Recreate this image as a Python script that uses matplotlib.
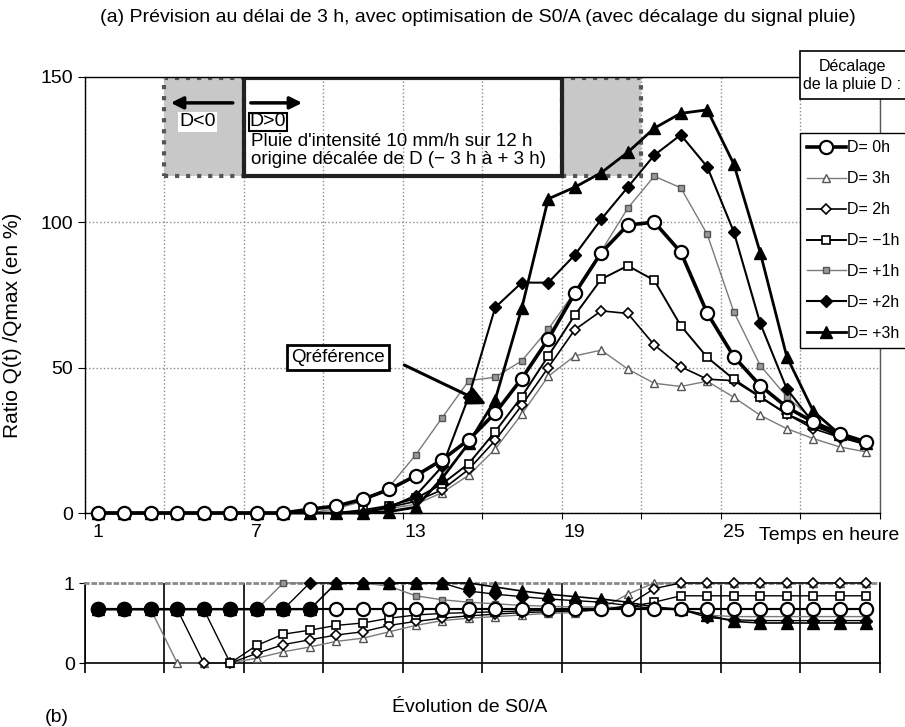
import matplotlib
matplotlib.use('Agg')
import matplotlib.pyplot as plt
from matplotlib.patches import Rectangle

plt.rcParams['font.family'] = ['Liberation Sans', 'DejaVu Sans']

W, H = 905, 727

hours = list(range(1, 31))
xtick_labels = [1, 7, 13, 19, 25]
labels = ['D= 0h', 'D= 3h', 'D= 2h', 'D= \u22121h', 'D= +1h', 'D= +2h', 'D= +3h']

# (a) Ratio Q(t)/Qmax (en %)
q_d0 = [0, 0, 0, 0, 0, 0, 0, 0, 1.3, 2.4, 4.7, 8.1, 12.8, 18.3, 25.2, 34.4, 46.2, 59.8, 75.5, 89.5,
        99, 100, 89.7, 68.7, 53.8, 43.8, 36.4, 31.3, 27.3, 24.4]
q_d3 = [0, 0, 0, 0, 0, 0, 0, 0, 0, 0, 0.3, 1.5, 3, 7, 13, 22, 34, 47, 54, 56,
        49.5, 44.6, 43.5, 45.3, 39.8, 33.6, 29, 25.6, 22.7, 21]
q_d2 = [0, 0, 0, 0, 0, 0, 0, 0, 0, 0, 0.5, 2, 4, 8, 15, 25, 37, 50, 63, 69.5,
        68.6, 57.8, 50.3, 46, 45.5, 39.8, 34, 29, 26, 23.5]
q_dm1 = [0, 0, 0, 0, 0, 0, 0, 0, 0, 0, 1, 2.5, 5, 10, 17, 28, 40, 54, 68, 80.4,
         85, 80, 64.4, 53.5, 46, 40, 34, 30, 26.5, 24]
q_dp1 = [0, 0, 0, 0, 0, 0, 0, 0, 0, 1.5, 4, 9, 20, 32.8, 45.5, 46.7, 52.3, 63.2, 76, 90,
         104.8, 115.8, 111.8, 95.8, 69.2, 50.7, 40, 32, 27, 24]
q_dp2 = [0, 0, 0, 0, 0, 0, 0, 0, 0, 0, 0, 2, 6, 16, 40, 70.7, 79.2, 79.2, 88.7, 101,
         112, 123, 130, 119, 96.7, 65.2, 42.7, 31, 26, 24]
q_dp3 = [0, 0, 0, 0, 0, 0, 0, 0, 0, 0, 0, 0.5, 2, 12, 24, 39, 70.4, 108, 112, 117,
         124, 132.3, 137.4, 138.6, 120, 89.5, 53.8, 35, 27, 24]

# (b) Evolution de S0/A
s_d0 = [0.67] * 30
s_d3 = [0.67, 0.67, 0.67, 0, 0, 0, 0.06, 0.14, 0.2, 0.27, 0.31, 0.39, 0.47, 0.53, 0.56, 0.58, 0.6, 0.62, 0.63, 0.68,
        0.86, 1, 1, 1, 1, 1, 1, 1, 1, 1]
s_d2 = [0.67, 0.67, 0.67, 0.67, 0, 0, 0.12, 0.23, 0.29, 0.35, 0.39, 0.47, 0.52, 0.56, 0.59, 0.61, 0.63, 0.64, 0.65, 0.66,
        0.72, 0.93, 1, 1, 1, 1, 1, 1, 1, 1]
s_dm1 = [0.67, 0.67, 0.67, 0.67, 0.67, 0, 0.22, 0.36, 0.41, 0.47, 0.5, 0.56, 0.6, 0.62, 0.63, 0.64, 0.65, 0.66, 0.66, 0.67,
         0.7, 0.76, 0.84, 0.84, 0.84, 0.84, 0.84, 0.84, 0.84, 0.84]
s_dp1 = [0.67, 0.67, 0.67, 0.67, 0.67, 0.67, 0.67, 1, 1, 1, 1, 0.96, 0.84, 0.79, 0.76, 0.74, 0.72, 0.71, 0.7, 0.7,
         0.69, 0.68, 0.66, 0.6, 0.58, 0.58, 0.58, 0.58, 0.58, 0.58]
s_dp2 = [0.67, 0.67, 0.67, 0.67, 0.67, 0.67, 0.67, 0.67, 1, 1, 1, 1, 1, 1, 0.9, 0.86, 0.83, 0.8, 0.78, 0.76,
         0.72, 0.68, 0.67, 0.57, 0.54, 0.53, 0.53, 0.53, 0.53, 0.53]
s_dp3 = [0.67, 0.67, 0.67, 0.67, 0.67, 0.67, 0.67, 0.67, 0.67, 1, 1, 1, 1, 1, 1, 0.95, 0.9, 0.86, 0.83, 0.8,
         0.76, 0.7, 0.67, 0.6, 0.52, 0.5, 0.5, 0.5, 0.5, 0.5]

q_series = [q_d0, q_d3, q_d2, q_dm1, q_dp1, q_dp2, q_dp3]
s_series = [s_d0, s_d3, s_d2, s_dm1, s_dp1, s_dp2, s_dp3]

styles = [
    dict(color='black', lw=2.6, marker='o', ms=9.5, mfc='white', mec='black', mew=1.6, zorder=10),
    dict(color='#7a7a7a', lw=1.0, marker='^', ms=6, mfc='white', mec='#555555', mew=1.0, zorder=5),
    dict(color='black', lw=1.2, marker='D', ms=5, mfc='white', mec='black', mew=1.2, zorder=6),
    dict(color='black', lw=1.4, marker='s', ms=5.5, mfc='white', mec='black', mew=1.2, zorder=6),
    dict(color='#7a7a7a', lw=1.0, marker='s', ms=5, mfc='#999999', mec='#555555', mew=1.0, zorder=5),
    dict(color='black', lw=1.5, marker='D', ms=6, mfc='black', mec='black', mew=1.0, zorder=7),
    dict(color='black', lw=2.0, marker='^', ms=8, mfc='black', mec='black', mew=1.0, zorder=8),
]

FS = 14
fig = plt.figure(figsize=(W / 100, H / 100), dpi=100)
ax = fig.add_axes([84.5 / W, 1 - 513 / H, 795 / W, (513 - 76.7) / H])
axb = fig.add_axes([84.5 / W, 1 - 663 / H, 795 / W, 80 / H])

bounds = [0.5 + 3 * k for k in range(11)]

# ---- main chart ----
handles = []
for vals, st, lab in zip(q_series, styles, labels):
    ln, = ax.plot(hours, vals, label=lab, clip_on=False, **st)
    handles.append(ln)

ax.set_xlim(0.5, 30.5)
ax.set_ylim(0, 150)
ax.set_yticks([0, 50, 100, 150])
ax.set_xticks(bounds)
ax.set_xticklabels([])
ax.set_xticks(xtick_labels, minor=True)
ax.set_xticklabels([str(v) for v in xtick_labels], minor=True)
ax.tick_params(axis='x', which='major', length=4, direction='out')
ax.tick_params(axis='x', which='minor', length=0, pad=8, labelsize=FS)
ax.tick_params(axis='y', length=5, direction='out', labelsize=FS, pad=3)
ax.grid(axis='x', which='major', color='#8a8a8a', ls=':', lw=1.0)
ax.grid(axis='y', color='#8a8a8a', ls=':', lw=1.0)
ax.set_axisbelow(True)
for sp in ax.spines.values():
    sp.set_color('black')
    sp.set_linewidth(1.0)
ax.spines['right'].set_color('#555555')
ax.set_ylabel('Ratio Q(t) /Qmax (en %)', fontsize=15)
ax.yaxis.set_label_coords(-62 / 795, 0.43)

ax.annotate('Temps en heure', xy=(25.95, 0), xycoords=('data', 'axes fraction'),
            xytext=(0, -22), textcoords='offset pixels', ha='left', va='center', fontsize=FS)

# rain box
ax.add_patch(Rectangle((3.5, 116), 3, 33.5, facecolor='#c8c8c8', edgecolor='#555555',
                       ls=':', lw=3, zorder=1))
ax.add_patch(Rectangle((18.5, 116), 3, 33.5, facecolor='#c8c8c8', edgecolor='#555555',
                       ls=':', lw=3, zorder=1))
ax.add_patch(Rectangle((6.5, 116), 12, 33.5, facecolor='none', edgecolor='#222222',
                       lw=3, zorder=2))
ax.annotate('', xy=(3.65, 141), xytext=(6.2, 141),
            arrowprops=dict(arrowstyle='-|>', lw=2.5, color='black', mutation_scale=18), zorder=3)
ax.annotate('', xy=(8.82, 141), xytext=(6.67, 141),
            arrowprops=dict(arrowstyle='-|>', lw=2.5, color='black', mutation_scale=18), zorder=3)
ax.text(4.76, 134.5, 'D<0', ha='center', va='center', fontsize=FS, zorder=3,
        bbox=dict(facecolor='white', edgecolor='none', pad=1))
ax.text(7.42, 134.5, 'D>0', ha='center', va='center', fontsize=FS, zorder=3,
        bbox=dict(facecolor='white', edgecolor='black', lw=1.5, pad=0.5))
ax.text(6.8, 127.7, "Pluie d'intensité 10 mm/h sur 12 h", ha='left', va='center', fontsize=13.5, zorder=3)
ax.text(6.8, 121.6, 'origine décalée de D (\u2212 3 h à + 3 h)', ha='left', va='center', fontsize=13.5, zorder=3)

# Qreference label and arrow
ax.text(10.07, 53.4, 'Qréférence', ha='center', va='center', fontsize=13.5, zorder=12,
        bbox=dict(facecolor='white', edgecolor='black', lw=2, pad=3))
ax.annotate('', xy=(15.75, 37), xytext=(12.47, 51.3),
            arrowprops=dict(arrowstyle='-|>', lw=2.2, color='black', mutation_scale=28), zorder=12)

# ---- lower chart ----
for vals, st in zip(s_series, styles):
    st2 = dict(st)
    st2['lw'] = max(1.0, st['lw'] * 0.6)
    axb.plot(hours, vals, clip_on=False, **st2)
st0 = dict(styles[0])
st0.update(lw=0, mfc='black', zorder=11)
axb.plot(hours, s_d0, markevery=list(range(9)), clip_on=False, **st0)

axb.set_xlim(0.5, 30.5)
axb.set_ylim(0, 1)
axb.set_yticks([0, 1])
axb.set_xticks(bounds)
axb.set_xticklabels([])
axb.tick_params(axis='x', length=7, width=1.2, direction='out')
axb.tick_params(axis='y', length=4, direction='out', labelsize=FS, pad=3)
axb.grid(axis='x', color='black', ls='-', lw=1.2)
axb.set_axisbelow(True)
axb.spines['top'].set_color('#8a8a8a')
axb.spines['top'].set_linestyle(':')
axb.spines['top'].set_linewidth(2)
for k in ['left', 'bottom', 'right']:
    axb.spines[k].set_color('black')
    axb.spines[k].set_linewidth(1.2)

fig.text(470 / W, 1 - 707 / H, 'Évolution de S0/A', ha='center', va='center', fontsize=FS)
fig.text(57 / W, 1 - 717 / H, '(b)', ha='center', va='center', fontsize=FS)

# title
fig.text(478 / W, 1 - 18 / H,
         '(a) Prévision au délai de 3 h, avec optimisation de S0/A (avec décalage du signal pluie)',
         ha='center', va='center', fontsize=14)

# legend
LFS = 11.5
leg = fig.legend(handles=handles, labels=labels, loc='upper left',
                 bbox_to_anchor=(800 / W, 1 - 133 / H), fontsize=LFS, frameon=True,
                 fancybox=False, edgecolor='black', framealpha=1, handlelength=2.4,
                 handletextpad=0.1, labelspacing=1.0, borderpad=0.45, borderaxespad=0)
leg.get_frame().set_linewidth(1.0)

# legend title box
fig.patches.append(Rectangle((800 / W, 1 - 99 / H), 106 / W, 48 / H, transform=fig.transFigure,
                             facecolor='white', edgecolor='black', lw=1.2, zorder=5))
fig.text(852 / W, 1 - 66 / H, 'Décalage', ha='center', va='center', fontsize=LFS, zorder=6)
fig.text(852 / W, 1 - 84 / H, 'de la pluie D :', ha='center', va='center', fontsize=LFS, zorder=6)

fig.savefig('out.png', dpi=100)
